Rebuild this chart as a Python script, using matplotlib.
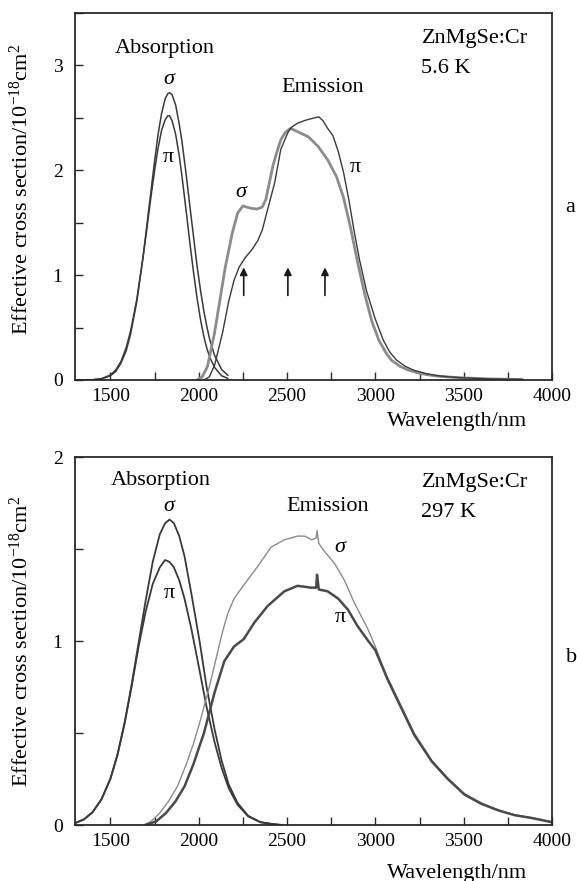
import matplotlib
matplotlib.use('Agg')
import matplotlib.pyplot as plt
from matplotlib.ticker import MultipleLocator

plt.rcParams['font.family'] = ['Liberation Serif', 'DejaVu Serif']
plt.rcParams['mathtext.fontset'] = 'custom'
plt.rcParams['mathtext.rm'] = 'Liberation Serif'
plt.rcParams['mathtext.it'] = 'Liberation Serif:italic'

# ---- panel a : 5.6 K ----
x_abs_a = [1300, 1400, 1450, 1500, 1530, 1560, 1590, 1615, 1650, 1685, 1705, 1727, 1750,
           1770, 1790, 1810, 1825, 1835, 1850, 1870, 1890, 1905, 1930, 1950, 1970, 1990,
           2010, 2030, 2045, 2062, 2090, 2130, 2165]
sig_abs_a = [0.0, 0.002, 0.01, 0.04, 0.08, 0.16, 0.28, 0.44, 0.75, 1.17, 1.45, 1.76, 2.08,
             2.34, 2.54, 2.68, 2.73, 2.74, 2.72, 2.62, 2.44, 2.28, 1.95, 1.66, 1.38, 1.10,
             0.86, 0.65, 0.52, 0.39, 0.235, 0.10, 0.045]
pi_abs_a = [0.0, 0.003, 0.013, 0.047, 0.094, 0.176, 0.31, 0.47, 0.77, 1.17, 1.42, 1.71, 1.99,
            2.21, 2.38, 2.48, 2.52, 2.52, 2.47, 2.34, 2.14, 1.95, 1.60, 1.31, 1.04, 0.79,
            0.58, 0.41, 0.31, 0.22, 0.12, 0.04, 0.015]

x_em_sig_a = [1990, 2020, 2050, 2090, 2120, 2150, 2190, 2220, 2250, 2290, 2330, 2360, 2380,
              2400, 2420, 2440, 2465, 2490, 2520, 2570, 2620, 2675, 2730, 2780, 2820, 2860,
              2900, 2940, 2980, 3020, 3060, 3090, 3140, 3185, 3260, 3335, 3420, 3500, 3650, 3830]
sig_em_a = [0.0, 0.03, 0.13, 0.45, 0.76, 1.07, 1.40, 1.59, 1.66, 1.64, 1.63, 1.65, 1.72,
            1.88, 2.04, 2.16, 2.29, 2.36, 2.40, 2.36, 2.32, 2.23, 2.10, 1.94, 1.74, 1.45,
            1.12, 0.82, 0.56, 0.38, 0.26, 0.19, 0.13, 0.095, 0.06, 0.04, 0.028, 0.02, 0.01, 0.005]

x_em_pi_a = [2030, 2060, 2090, 2135, 2170, 2200, 2230, 2265, 2300, 2335, 2360, 2380, 2405,
             2430, 2465, 2505, 2525, 2560, 2610, 2655, 2680, 2705, 2730, 2760, 2790, 2820,
             2850, 2880, 2910, 2950, 3000, 3045, 3080, 3120, 3170, 3215, 3290, 3355, 3430,
             3500, 3650, 3830]
pi_em_a = [0.0, 0.03, 0.14, 0.45, 0.75, 0.95, 1.08, 1.17, 1.24, 1.33, 1.43, 1.56, 1.72,
           1.88, 2.20, 2.36, 2.41, 2.45, 2.48, 2.50, 2.51, 2.47, 2.40, 2.33, 2.18, 1.98,
           1.72, 1.42, 1.15, 0.85, 0.58, 0.38, 0.27, 0.19, 0.13, 0.095, 0.06, 0.04, 0.028,
           0.02, 0.01, 0.005]

arrow_x = [2255, 2505, 2715]

# ---- panel b : 297 K ----
x_abs_b = [1300, 1350, 1400, 1450, 1500, 1540, 1580, 1620, 1660, 1700, 1740, 1780, 1810,
           1835, 1860, 1890, 1920, 1960, 2005, 2045, 2090, 2130, 2170, 2220, 2280, 2350,
           2420, 2470]
sig_abs_b = [0.01, 0.03, 0.07, 0.14, 0.25, 0.38, 0.55, 0.76, 0.99, 1.22, 1.43, 1.58, 1.64,
             1.66, 1.64, 1.57, 1.46, 1.25, 1.00, 0.75, 0.52, 0.35, 0.22, 0.12, 0.05, 0.015,
             0.005, 0.0]
pi_abs_b = [0.01, 0.03, 0.07, 0.14, 0.25, 0.38, 0.55, 0.75, 0.97, 1.16, 1.31, 1.40, 1.44,
            1.43, 1.40, 1.33, 1.23, 1.06, 0.84, 0.64, 0.45, 0.31, 0.20, 0.11, 0.047, 0.015,
            0.005, 0.0]

x_em_sig_b = [1690, 1730, 1780, 1830, 1880, 1930, 1970, 2010, 2060, 2105, 2135, 2165, 2200,
              2260, 2330, 2410, 2485, 2560, 2600, 2640, 2665, 2670, 2680, 2710, 2770, 2825,
              2880, 2960, 3000, 3035, 3070, 3130, 3220, 3320, 3410, 3505, 3600, 3700, 3790,
              3885, 4000]
sig_em_b = [0.0, 0.02, 0.065, 0.13, 0.21, 0.33, 0.44, 0.57, 0.75, 0.93, 1.05, 1.15, 1.23,
            1.31, 1.40, 1.51, 1.55, 1.57, 1.57, 1.55, 1.56, 1.60, 1.53, 1.49, 1.42, 1.33,
            1.21, 1.06, 0.97, 0.88, 0.80, 0.68, 0.50, 0.35, 0.255, 0.17, 0.12, 0.08, 0.055,
            0.04, 0.018]

x_em_pi_b = [1700, 1760, 1815, 1870, 1920, 1970, 2030, 2090, 2145, 2200, 2255, 2315, 2390,
             2485, 2560, 2635, 2665, 2670, 2680, 2730, 2790, 2845, 2900, 2960, 3000, 3035,
             3070, 3130, 3220, 3320, 3410, 3505, 3600, 3700, 3790, 3885, 4000]
pi_em_b = [0.0, 0.02, 0.065, 0.13, 0.21, 0.33, 0.50, 0.72, 0.89, 0.97, 1.01, 1.10, 1.19,
           1.27, 1.30, 1.29, 1.29, 1.36, 1.28, 1.27, 1.23, 1.17, 1.08, 1.00, 0.95, 0.87,
           0.79, 0.67, 0.49, 0.345, 0.25, 0.165, 0.115, 0.078, 0.053, 0.038, 0.015]

ylab = 'Effective cross section/10$^{-18}$cm$^2$'
dark = '#3a3a3a'
grey = '#8c8c8c'
fs = 16

fig = plt.figure(figsize=(5.77, 8.81), dpi=100)
ax1 = fig.add_axes([75/577, 1-380/881, 477/577, 367/881])
ax2 = fig.add_axes([75/577, 1-825/881, 477/577, 368/881])


def style(ax, ymax):
	ax.set_xlim(1300, 4000)
	ax.set_ylim(0, ymax)
	ax.xaxis.set_major_locator(MultipleLocator(500))
	ax.xaxis.set_minor_locator(MultipleLocator(250))
	ax.yaxis.set_major_locator(MultipleLocator(1))
	ax.yaxis.set_minor_locator(MultipleLocator(0.5))
	ax.tick_params(which='both', direction='in', length=6, width=1.0, color='#2a2a2a',
	               labelsize=14, top=False, right=False)
	ax.tick_params(axis='x', pad=6)
	ax.tick_params(axis='y', pad=9)
	for s in ax.spines.values():
		s.set_linewidth(1.3)
		s.set_color('#2a2a2a')
	ax.set_ylabel(ylab, fontsize=fs)
	ax.set_xlabel('Wavelength/nm', fontsize=fs)


# panel a
ax1.plot(x_abs_a, sig_abs_a, color=dark, lw=1.1)
ax1.plot(x_abs_a, pi_abs_a, color=dark, lw=1.1)
ax1.plot(x_em_sig_a, sig_em_a, color=grey, lw=2.0)
ax1.plot(x_em_pi_a, pi_em_a, color=dark, lw=1.0)
for xa in arrow_x:
	ax1.annotate('', xy=(xa, 1.10), xytext=(xa, 0.78),
	             arrowprops=dict(arrowstyle='-|>', color='#1a1a1a', lw=1.2, mutation_scale=11))
style(ax1, 3.5)
ax1.text(1807, 3.16, 'Absorption', fontsize=fs, ha='center', va='center')
ax1.text(1830, 2.87, 'σ', fontsize=fs, style='italic', ha='center', va='center')
ax1.text(1830, 2.12, 'π', fontsize=fs, ha='center', va='center')
ax1.text(2700, 2.79, 'Emission', fontsize=fs, ha='center', va='center')
ax1.text(2239, 1.79, 'σ', fontsize=fs, style='italic', ha='center', va='center')
ax1.text(2886, 2.03, 'π', fontsize=fs, ha='center', va='center')
ax1.text(3261, 3.26, 'ZnMgSe:Cr', fontsize=fs, ha='left', va='center')
ax1.text(3261, 2.97, '5.6 K', fontsize=fs, ha='left', va='center')
ax1.yaxis.set_label_coords(-0.088, 0.52)
ax1.xaxis.set_label_coords(0.80, -0.088)

# panel b
ax2.plot(x_abs_b, sig_abs_b, color=dark, lw=1.3)
ax2.plot(x_abs_b, pi_abs_b, color=dark, lw=1.3)
ax2.plot(x_em_sig_b, sig_em_b, color=grey, lw=1.0)
ax2.plot(x_em_pi_b, pi_em_b, color='#4a4a4a', lw=1.8)
style(ax2, 2)
ax2.text(1784, 1.875, 'Absorption', fontsize=fs, ha='center', va='center')
ax2.text(1830, 1.73, 'σ', fontsize=fs, style='italic', ha='center', va='center')
ax2.text(1835, 1.26, 'π', fontsize=fs, ha='center', va='center')
ax2.text(2733, 1.73, 'Emission', fontsize=fs, ha='center', va='center')
ax2.text(2801, 1.51, 'σ', fontsize=fs, style='italic', ha='center', va='center')
ax2.text(2801, 1.13, 'π', fontsize=fs, ha='center', va='center')
ax2.text(3261, 1.86, 'ZnMgSe:Cr', fontsize=fs, ha='left', va='center')
ax2.text(3261, 1.70, '297 K', fontsize=fs, ha='left', va='center')
ax2.yaxis.set_label_coords(-0.088, 0.5)
ax2.xaxis.set_label_coords(0.80, -0.105)

# panel letters at the right edge
fig.text(565/577, 1-207/881, 'a', fontsize=fs, va='center', ha='left')
fig.text(566/577, 1-658/881, 'b', fontsize=fs, va='center', ha='left')

plt.savefig('out.png', dpi=100)
